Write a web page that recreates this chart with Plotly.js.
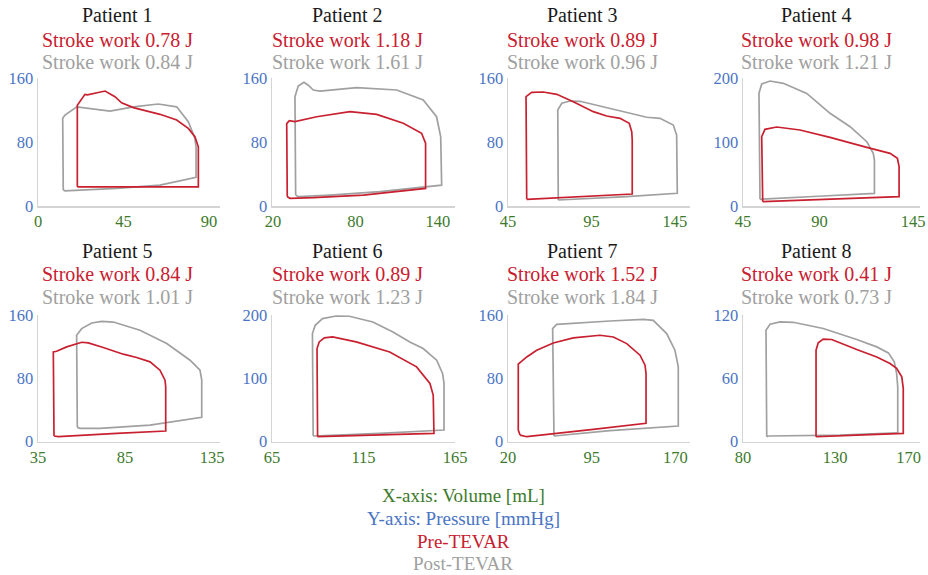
<!DOCTYPE html>
<html>
<head>
<meta charset="utf-8">
<script src="https://cdn.plot.ly/plotly-3.0.1.min.js"></script>
<style>html,body{margin:0;padding:0;background:#fff;}#chart{width:928px;height:575px;}</style>
</head>
<body>
<div id="chart"></div>
<script>
// ---- Data (volume in mL, pressure in mmHg) ----
const patients = ["Patient 1","Patient 2","Patient 3","Patient 4","Patient 5","Patient 6","Patient 7","Patient 8"];
const strokeWorkPre  = ["0.78","1.18","0.89","0.98","0.84","0.89","1.52","0.41"];
const strokeWorkPost = ["0.84","1.61","0.96","1.21","1.01","1.23","1.84","0.73"];

const xTickVals = [[0,45,90],[20,80,140],[45,95,145],[45,90,145],[35,85,135],[65,115,165],[20,95,170],[80,130,170]];
const yTickVals = [[0,80,160],[0,80,160],[0,80,160],[0,100,200],[0,80,160],[0,100,200],[0,80,160],[0,60,120]];

// Patient 1
const p1PreV  = [20.7,20.7,24.7,26,35.3,40.5,44,50.2,64.2,73,79.1,82.6,84.4,84.4,20.7];
const p1PreP  = [24,126,139.6,139,143.7,136.7,129,123,114.6,107.5,97,86.7,74,24,24];
const p1PostV = [13.3,13,14.2,20.4,37.9,50.2,63.3,73,79.1,82.6,83.2,83.2,64.2,41.4,14.2,13.3];
const p1PostP = [20,109.6,113.7,124,118.7,124,127.5,124,105.4,84.6,74,35.8,26,22,19,20];
// Patient 2
const p2PreV  = [30.4,30,31.9,36,51.8,76,95.4,114.8,128.1,131,131,85.7,49.3,32.4,30.4];
const p2PreP  = [11.6,103,106.7,105.4,111.6,117.9,114.6,103.4,90.9,78.4,22,13.7,10.4,9.6,11.6];
const p2PostV = [36.5,36,38.4,42.5,45.7,49.3,54.2,80.9,110,129.3,139,142,142.7,97.8,61.5,38.4,36.5];
const p2PostP = [13.7,136.7,150,154.6,151,145,143.7,147.9,145,132.5,111.6,86.6,26,17.9,13.7,11.6,13.7];
// Patient 3
const p3PreV  = [56.2,55.8,59.2,66.1,74.2,84.1,96.1,104.1,112.1,117.6,119.1,119.4,119.4,96.1,57.2,56.2];
const p3PreP  = [8.4,136.7,142,142.5,139.6,130.4,117.9,112.5,109.6,103.4,92.9,82.5,15,12.5,8.4,8.4];
const p3PostV = [75.1,74.8,77.2,82.1,88.1,100.1,116.1,128.1,136,144,146,146.4,116.1,76.1,75.1];
const p3PostP = [7.5,120,128.4,131.2,130.9,125,116.7,110.9,109.6,101.2,88.7,15.9,11.6,7.1,7.5];
// Patient 4
const p4PreV  = [56.6,56,57.9,64.8,78.5,96.2,117.8,131.5,135.8,136.8,136.8,92.2,56.9,56.6];
const p4PreP  = [6.7,108.3,119.8,123.4,118.8,107.3,91.7,82.3,74.5,61.4,14.5,10.5,6.7,6.7];
const p4PostV = [55,54.4,56,60.9,68.7,82.5,96.2,108,117.8,121.6,122.3,122.3,92.2,56.9,55];
const p4PostP = [10.5,176,190.6,195.3,191.7,176,144.8,123.9,100.5,82.3,71.9,19.8,15.6,10.5,10.5];
// Patient 5
const p5PreV  = [44.2,43.8,45.7,51.5,60.1,63.9,72.5,84,91.7,99.4,105.1,108,108.4,108.4,80.2,46.7,44.2];
const p5PreP  = [7.2,113.4,114.2,119.7,125.6,124.7,118.9,110.5,106.3,100.8,90.3,77.7,69.3,13.5,10.6,6.3,7.2];
const p5PostV = [57.6,57.2,60.1,65.9,71.6,78.3,93.6,109,122.4,128.1,129.1,129.1,99.4,70.6,59.1,57.6];
const p5PostP = [18.1,134.4,142.8,149.9,152,151.1,140.7,123.9,102.9,90.3,77.7,30.7,21,16.9,16.9,18.1];
// Patient 6
const p6PreV  = [89.9,89.6,90.8,93.6,98.1,111,129.3,144,151.3,153.1,153.5,123.8,90.8,89.9];
const p6PreP  = [7.9,147,157.5,163.8,165.4,157.5,141.7,118.1,92,73.5,13.2,10.6,7.9,7.9];
const p6PostV = [87.5,87.1,88.6,92.6,100,107.3,120.1,131.1,140.3,147.6,155,158.2,159,159,123.8,89,87.5];
const p6PostP = [9,170.7,183.8,194.3,198.4,198,189,173.2,157.5,147.1,128.7,107.7,92,18.4,13.2,9,9];
// Patient 7
const p7PreV  = [30.8,29.2,29.2,36.8,45.7,60.6,78.5,102.4,114.4,126.4,138.3,142.8,143.7,143.7,96.4,51.6,36.8,30.8];
const p7PreP  = [8.4,14.7,97.9,107,115.5,124.7,131,134.4,132.2,123.9,109.2,96.6,86.1,23.2,15.6,8.4,6.3,8.4];
const p7PostV = [61.2,60,63.6,72.6,111.4,141.2,150.2,162.2,169.6,172.6,172.6,111.4,63.6,61.2];
const p7PostP = [7.2,142.8,148.2,149.1,152.4,154.5,153.3,136.5,115.5,94.5,19.8,13.9,7.2,7.2];
// Patient 8
const p8PreV  = [119.7,119.7,120.9,123.6,128.2,132.7,141.8,152.7,159.9,163.5,166.3,167.1,167.1,141.8,120.1,119.7];
const p8PreP  = [4.7,86.7,93.6,97.1,96.8,93.6,87.3,80.3,74.1,69.4,61.4,50.5,7.9,6.3,4.7,4.7];
const p8PostV = [92.9,92.5,94.7,100.1,107.3,123.6,141.8,152.7,159,162.2,163.5,164.1,164.1,132.7,93.8,92.9];
const p8PostP = [4.7,105.6,111.2,113.4,113.1,107.2,96.8,89.8,84.1,75.6,64.7,52,8.5,6.3,5.4,4.7];

const preV  = [p1PreV,p2PreV,p3PreV,p4PreV,p5PreV,p6PreV,p7PreV,p8PreV];
const preP  = [p1PreP,p2PreP,p3PreP,p4PreP,p5PreP,p6PreP,p7PreP,p8PreP];
const postV = [p1PostV,p2PostV,p3PostV,p4PostV,p5PostV,p6PostV,p7PostV,p8PostV];
const postP = [p1PostP,p2PostP,p3PostP,p4PostP,p5PostP,p6PostP,p7PostP,p8PostP];

const legendLines = ["X-axis: Volume [mL]","Y-axis: Pressure [mmHg]","Pre-TEVAR","Post-TEVAR"];

// ---- Layout / styling ----
const W = 928, H = 575;
const RED = "#C8202F", GRAY = "#A0A0A0", GREEN = "#3D7A2C", BLUE = "#4A74C4";
const FONT = "Liberation Serif, Times New Roman, serif";
const colPx = [[38,220],[272,455],[508,690],[743,920]];
const rowPx = [[78,206],[315,441.7]];
const xRanges = [[0,95.8],[19.3,152.4],[45,154],[45,149.1],[35,139.6],[65,165],[20,183.1],[80,176.2]];
const titleX = [118,347,582,816];
const titleY = [[15,40,62],[251,274,297]];

const traces = [];
const layout = {
  width: W, height: H,
  margin: {l:0, r:0, t:0, b:0},
  paper_bgcolor: "#fff", plot_bgcolor: "#fff",
  showlegend: false,
  font: {family: FONT, size: 17},
  annotations: []
};

for (let i = 0; i < 8; i++) {
  const r = Math.floor(i/4), c = i % 4;
  const sfx = i === 0 ? "" : String(i+1);
  const xa = "x" + sfx, ya = "y" + sfx;
  traces.push({x: postV[i], y: postP[i], xaxis: xa, yaxis: ya, type: "scatter", mode: "lines",
    line: {color: GRAY, width: 1.7}, hoverinfo: "skip"});
  traces.push({x: preV[i], y: preP[i], xaxis: xa, yaxis: ya, type: "scatter", mode: "lines",
    line: {color: RED, width: 1.7}, hoverinfo: "skip"});
  const yMax = yTickVals[i][2];
  layout["xaxis" + sfx] = {
    domain: [colPx[c][0]/W, colPx[c][1]/W],
    range: xRanges[i], anchor: ya,
    tickvals: xTickVals[i], ticktext: xTickVals[i].map(String),
    showgrid: false, zeroline: false, showline: true, linecolor: "#D4D4D4", linewidth: 1.5,
    ticks: "", ticklabelstandoff: 0, tickfont: {family: FONT, size: 16.5, color: GREEN}, fixedrange: true
  };
  layout["yaxis" + sfx] = {
    domain: [1 - rowPx[r][1]/H, 1 - rowPx[r][0]/H],
    range: [0, yMax], anchor: xa,
    tickvals: yTickVals[i], ticktext: yTickVals[i].map(String),
    showgrid: false, zeroline: false, showline: true, linecolor: "#D4D4D4", linewidth: 1.5,
    ticks: "", tickfont: {family: FONT, size: 16.5, color: BLUE}, fixedrange: true
  };
  const texts = [patients[i], "Stroke work " + strokeWorkPre[i] + " J", "Stroke work " + strokeWorkPost[i] + " J"];
  const cols = ["#1a1a1a", RED, GRAY];
  for (let k = 0; k < 3; k++) {
    layout.annotations.push({
      xref: "paper", yref: "paper", x: titleX[c]/W, y: 1 - titleY[r][k]/H,
      xanchor: "center", yanchor: "middle", showarrow: false,
      text: texts[k], font: {family: FONT, size: 20, color: cols[k]}
    });
  }
}

const legendY = [495, 518, 541, 563];
const legendCols = [GREEN, BLUE, RED, GRAY];
legendLines.forEach((t, k) => {
  layout.annotations.push({
    xref: "paper", yref: "paper", x: 463/W, y: 1 - legendY[k]/H,
    xanchor: "center", yanchor: "middle", showarrow: false,
    text: t, font: {family: FONT, size: 19, color: legendCols[k]}
  });
});

Plotly.newPlot("chart", traces, layout, {displayModeBar: false, staticPlot: true});
</script>
</body>
</html>
